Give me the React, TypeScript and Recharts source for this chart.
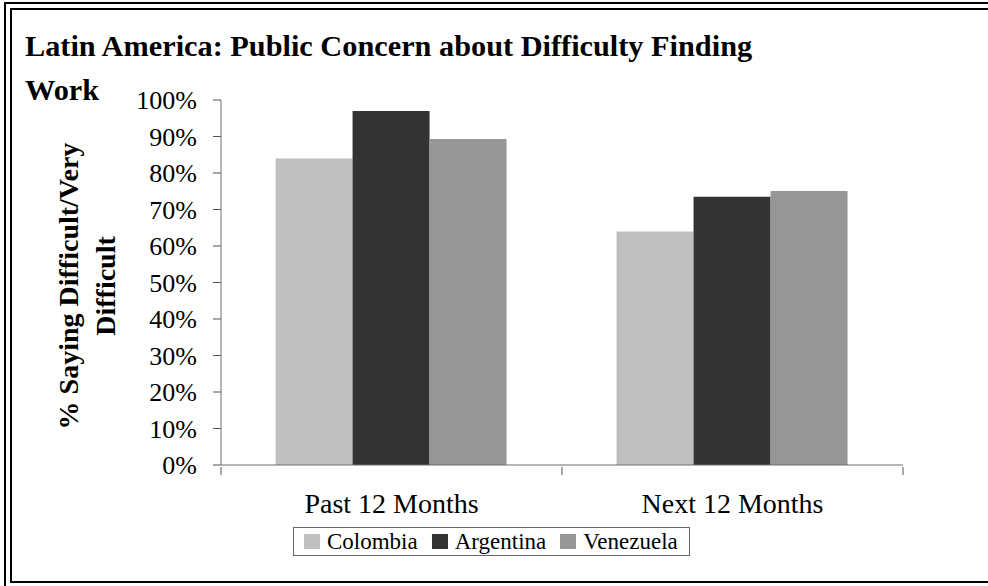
import { BarChart, Bar, XAxis, YAxis, Legend } from "recharts";

const categories = ["Past 12 Months", "Next 12 Months"];
const colombia = [0.84, 0.64];
const argentina = [0.97, 0.735];
const venezuela = [0.893, 0.751];
const yTicks = [0, 0.1, 0.2, 0.3, 0.4, 0.5, 0.6, 0.7, 0.8, 0.9, 1];

const SERIES = [
  { key: "Colombia", color: "#C0C0C0", values: colombia },
  { key: "Argentina", color: "#333333", values: argentina },
  { key: "Venezuela", color: "#969696", values: venezuela },
];

const FONT = "'Liberation Serif', 'Times New Roman', serif";

const data = categories.map((name, i) => {
  const row: Record<string, string | number> = { name };
  SERIES.forEach((s) => {
    row[s.key] = s.values[i];
  });
  return row;
});

// category label plus the boundary ticks Excel draws between groups
const CategoryTick = (props: any) => {
  const { x, y, payload, index } = props;
  const half = payload && payload.offset ? payload.offset : 170.5;
  return (
    <g>
      {index === 0 && <line x1={x - half} x2={x - half} y1={y} y2={y + 8} stroke="#555" />}
      <line x1={x + half} x2={x + half} y1={y} y2={y + 8} stroke="#555" />
      <text x={x} y={y + 46} textAnchor="middle" fontFamily={FONT} fontSize={28} fill="#000">
        {payload.value}
      </text>
    </g>
  );
};

const LegendBox = () => (
  <div
    style={{
      display: "flex",
      alignItems: "center",
      height: 29,
      border: "1px solid #666",
      padding: "0 0 0 10px",
      fontFamily: FONT,
      fontSize: 23,
      color: "#000",
      boxSizing: "border-box",
      width: 397,
    }}
  >
    {SERIES.map((s) => (
      <div key={s.key} style={{ display: "flex", alignItems: "center", marginRight: 14 }}>
        <span style={{ width: 16, height: 15, background: s.color, display: "inline-block", marginRight: 7 }} />
        <span>{s.key}</span>
      </div>
    ))}
  </div>
);

export default function App() {
  return (
    <div style={{ position: "absolute", left: 0, top: 0, width: 988, height: 586, background: "#fff", overflow: "hidden" }}>
      {/* double frame, cut off at the right and bottom like the source */}
      <div style={{ position: "absolute", left: 4, top: 2, width: 1100, height: 620, border: "2px solid #000" }} />
      <div style={{ position: "absolute", left: 10, top: 8, width: 1100, height: 571, border: "2px solid #000" }} />

      <div
        style={{
          position: "absolute",
          left: 25,
          top: 24,
          fontFamily: FONT,
          fontWeight: "bold",
          fontSize: 30.3,
          lineHeight: "44px",
          color: "#000",
          whiteSpace: "nowrap",
        }}
      >
        Latin America: Public Concern about Difficulty Finding
        <br />
        Work
      </div>

      <div style={{ position: "absolute", left: 0, top: 0 }}>
        <BarChart
          width={988}
          height={586}
          data={data}
          margin={{ top: 100, right: 85, left: 0, bottom: 61 }}
          barCategoryGap="16%"
          barGap={0}
        >
          <XAxis
            dataKey="name"
            height={60}
            tickLine={false}
            tickSize={0}
            interval={0}
            axisLine={{ stroke: "#6e6e6e" }}
            tick={<CategoryTick />}
          />
          <YAxis
            width={221}
            domain={[0, 1]}
            ticks={yTicks}
            interval={0}
            tickSize={8}
            tickMargin={16}
            tickFormatter={(v: number) => `${Math.round(v * 100)}%`}
            axisLine={{ stroke: "#6e6e6e" }}
            tickLine={{ stroke: "#555" }}
            tick={{ fontFamily: FONT, fontSize: 26, fill: "#000" }}
            label={{
              content: () => (
                <text
                  transform="rotate(-90 0 0)"
                  fontFamily={FONT}
                  fontWeight="bold"
                  fontSize={28}
                  fill="#000"
                  textAnchor="middle"
                >
                  <tspan x={-286} y={78}>% Saying Difficult/Very</tspan>
                  <tspan x={-286} y={115}>Difficult</tspan>
                </text>
              ),
            }}
          />
          <Legend
            layout="horizontal"
            verticalAlign="middle"
            align="center"
            wrapperStyle={{ left: 293, top: 527, width: 397, height: 29 }}
            content={() => <LegendBox />}
          />
          {SERIES.map((s) => (
            <Bar key={s.key} dataKey={s.key} fill={s.color} isAnimationActive={false} />
          ))}
        </BarChart>
      </div>
    </div>
  );
}
